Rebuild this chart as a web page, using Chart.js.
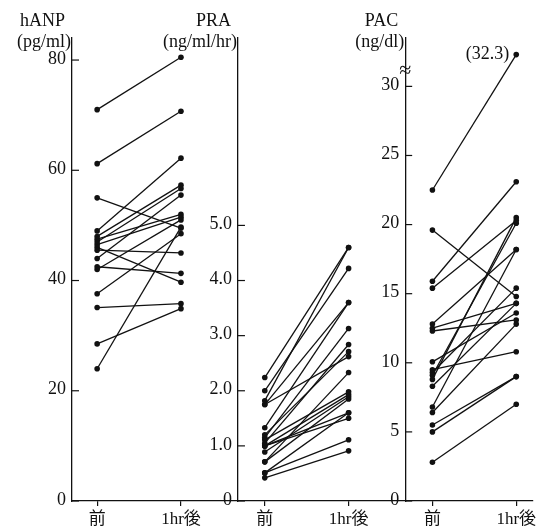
<!DOCTYPE html>
<html>
<head>
<meta charset="utf-8">
<script src="https://cdn.jsdelivr.net/npm/chart.js@4"></script>
<style>
  body { margin: 0; background: #fff; }
  #wrap { width: 542px; height: 530px; }
</style>
</head>
<body>
<div id="wrap"><canvas id="chart"></canvas></div>
<script>
const xLabels = ['前', '1hr後', '前', '1hr後', '前', '1hr後'];

// hANP (pg/ml), before / 1hr after
const hanpBefore = [71, 61.2, 55, 49, 48, 47.5, 47, 46.5, 46, 45.5, 44, 42.5, 42, 37.6, 35.1, 28.5, 24];
const hanpAfter = [80.5, 70.7, 49.5, 62.2, 57.3, 52, 56.7, 51.5, 39.7, 45, 55.5, 41.3, 51, 48.5, 35.8, 34.9, 49.7];
const hanpTicks = [0, 20, 40, 60, 80];

// PRA (ng/ml/hr)
const praBefore = [2.24, 2.0, 1.82, 1.75, 1.75, 1.33, 1.2, 1.15, 1.11, 1.05, 1.0, 1.0, 0.89, 0.71, 0.71, 0.51, 0.51, 0.42, 1.0];
const praAfter = [4.6, 4.22, 4.6, 3.6, 2.62, 3.6, 2.71, 3.13, 1.98, 2.84, 1.93, 1.6, 1.89, 2.33, 1.85, 1.6, 1.11, 0.91, 1.5];
const praTicks = [0, 1, 2, 3, 4, 5];

// PAC (ng/dl)
const pacBefore = [22.5, 19.6, 15.9, 15.4, 12.8, 12.5, 12.3, 10.07, 9.5, 9.3, 9.1, 8.8, 8.3, 6.8, 6.4, 5.5, 5.0, 2.8];
const pacAfter = [32.3, 14.8, 23.1, 20.3, 18.2, 14.3, 13.1, 13.6, 10.8, 15.4, 20.1, 20.5, 14.3, 18.2, 12.8, 9.0, 9.0, 7.0];
const pacTicks = [0, 5, 10, 15, 20, 25, 30];
const pacBreak = 31.1;

const panels = [
  { id: 'yHanp', name: 'hANP', unit: '(pg/ml)', before: hanpBefore, after: hanpAfter, ticks: hanpTicks, col: 0, axisAt: -0.3, max: 84, fmt: v => String(v) },
  { id: 'yPra', name: 'PRA', unit: '(ng/ml/hr)', before: praBefore, after: praAfter, ticks: praTicks, col: 2, axisAt: 1.68, max: 8.4, fmt: v => v === 0 ? '0' : v.toFixed(1) },
  { id: 'yPac', name: 'PAC', unit: '(ng/dl)', before: pacBefore, after: pacAfter, ticks: pacTicks, col: 4, axisAt: 3.675, max: 33.5, fmt: v => String(v) }
];

const ink = '#111';
const font = { family: '"Liberation Serif", "Noto Sans CJK JP", serif', size: 18 };

const datasets = [];
panels.forEach(p => {
  p.before.forEach((b, i) => {
    datasets.push({
      data: [{ x: p.col, y: b }, { x: p.col + 1, y: p.after[i] }],
      yAxisID: p.id,
      borderColor: ink,
      backgroundColor: ink,
      borderWidth: 1.3,
      pointRadius: 2.8,
      pointBorderWidth: 0
    });
  });
});

const scales = {
  x: {
    type: 'linear',
    min: -0.3,
    max: 5.2,
    afterBuildTicks: s => { s.ticks = xLabels.map((_, i) => ({ value: i })); },
    afterFit: s => { s.height = 29; },
    ticks: { callback: v => xLabels[v], font: { ...font, size: 17 }, color: ink, padding: 3, autoSkip: false, maxRotation: 0 },
    grid: { drawOnChartArea: false, tickLength: 5, color: ink, lineWidth: 1.2 },
    border: { color: ink, width: 1.3 }
  }
};
panels.forEach(p => {
  scales[p.id] = {
    type: 'linear',
    axis: 'y',
    position: { x: p.axisAt },
    min: 0,
    max: p.max,
    afterBuildTicks: s => { s.ticks = p.ticks.map(v => ({ value: v })); },
    ticks: { display: false },
    grid: { drawOnChartArea: false, drawTicks: false },
    border: { color: ink, width: 1.3 }
  };
});

// y tick marks point inward, labels sit left of each axis
const panelText = {
  id: 'panelText',
  afterDraw(chart) {
    const ctx = chart.ctx;
    const xs = chart.scales.x;
    ctx.save();
    ctx.fillStyle = ink;
    ctx.strokeStyle = ink;
    ctx.lineWidth = 1.2;
    ctx.font = `${font.size}px ${font.family}`;
    ctx.textBaseline = 'middle';
    panels.forEach(p => {
      const ys = chart.scales[p.id];
      const ax = xs.getPixelForValue(p.axisAt);
      ctx.textAlign = 'right';
      ctx.fillText(p.name, ax - 7, 21);
      ctx.fillText(p.unit, ax - 1, 42);
      p.ticks.forEach(v => {
        const y = ys.getPixelForValue(v);
        ctx.beginPath();
        ctx.moveTo(ax, y);
        ctx.lineTo(ax + 7, y);
        ctx.stroke();
        ctx.fillText(p.fmt(v), ax - 6, y - 1);
      });
    });

    // axis break on PAC and the off-scale value label
    const pac = chart.scales.yPac;
    const pacX = xs.getPixelForValue(panels[2].axisAt);
    ctx.textAlign = 'center';
    ctx.font = `22px ${font.family}`;
    ctx.fillText('≈', pacX, pac.getPixelForValue(pacBreak));

    const top = Math.max(...pacAfter);
    ctx.textAlign = 'right';
    ctx.font = `${font.size}px ${font.family}`;
    ctx.fillText('(' + top + ')', xs.getPixelForValue(panels[2].col + 1) - 7, pac.getPixelForValue(top));
    ctx.restore();
  }
};

new Chart(document.getElementById('chart'), {
  type: 'line',
  data: { datasets },
  options: {
    responsive: true,
    maintainAspectRatio: false,
    animation: false,
    layout: { padding: { left: 72, right: 9, top: 38, bottom: 0 } },
    plugins: { legend: { display: false }, tooltip: { enabled: false } },
    scales
  },
  plugins: [panelText]
});
</script>
</body>
</html>
